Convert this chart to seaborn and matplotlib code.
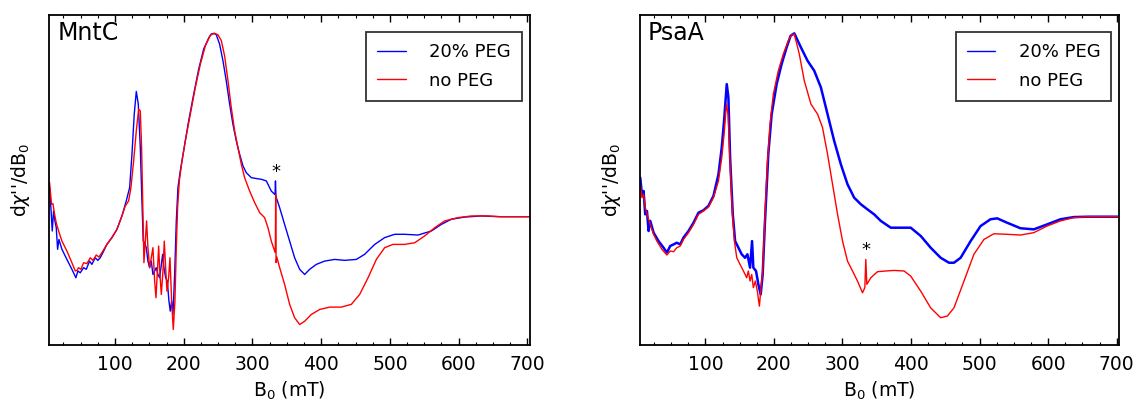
import pandas as pd
import matplotlib
matplotlib.use("Agg")
import matplotlib.pyplot as plt
import seaborn as sns
from matplotlib.ticker import MultipleLocator

# EPR spectra: (B0 in mT, dχ''/dB0 in arbitrary units, peak = 100)
mntc_peg = [(4.8, 15.9), (6.7, 5.0), (8.7, -7.8), (10.6, 3.1), (12.6, -2.3), (14.5, -6.0), (16.5, -17.8),
            (18.4, -12.4), (22.8, -17.8), (30.0, -23.3), (37.3, -28.7), (43.1, -33.3), (46.0, -29.6),
            (49.4, -30.6), (54.3, -27.8), (58.2, -28.7), (63.0, -24.2), (66.4, -26.0), (71.2, -22.4),
            (75.1, -23.8), (78.5, -22.4), (82.4, -19.6), (88.2, -15.1), (95.5, -11.4), (102.8, -6.9),
            (110.1, 0.4), (116.4, 8.6), (121.3, 15.9), (124.7, 34.1), (128.0, 55.9), (131.0, 68.3),
            (133.9, 61.4), (136.8, 37.7), (139.2, 8.6), (141.1, -13.3), (143.1, -14.2), (145.5, -16.9),
            (147.9, -24.2), (150.4, -27.8), (152.8, -24.2), (155.2, -31.5), (157.7, -29.6), (160.0, -27.8),
            (162.5, -31.5), (164.9, -33.3), (166.9, -27.8), (169.3, -20.5), (171.2, -27.8), (173.7, -33.3),
            (176.1, -35.1), (178.5, -46.0), (180.4, -51.5), (182.4, -46.0), (184.3, -53.3), (186.8, -31.5),
            (189.2, -2.3), (191.6, 15.9), (195.0, 25.0), (199.9, 35.9), (207.2, 52.3), (214.5, 66.8),
            (221.8, 80.5), (229.0, 91.4), (236.3, 97.4), (240.1, 99.6), (244.0, 100.0), (247.4, 99.2),
            (252.2, 94.1), (257.1, 85.0), (261.9, 74.1), (266.8, 61.4), (271.6, 50.4), (276.5, 41.3),
            (281.3, 34.1), (286.2, 27.7), (291.0, 24.0), (298.3, 21.3), (305.6, 20.8), (312.9, 20.4),
            (320.2, 19.5), (327.4, 14.0), (332.9, 12.0), (333.5, 19.5), (334.2, 11.0), (339.6, 4.9),
            (346.8, -4.2), (354.1, -13.3), (361.4, -22.4), (368.7, -28.7), (376.0, -31.5), (383.2, -28.7),
            (393.0, -26.0), (405.1, -24.2), (419.6, -23.3), (434.2, -23.8), (451.2, -23.3), (463.3, -20.5),
            (477.9, -15.1), (492.4, -11.4), (507.0, -9.6), (521.5, -9.6), (540.9, -10.0), (560.3, -7.8),
            (574.9, -4.2), (589.4, -1.4), (608.9, -0.2), (633.1, 0.4), (659.8, 0.0), (704.0, 0.0)]

mntc_nopeg = [(4.8, 18.6), (7.7, 6.8), (9.7, 7.1), (12.1, 1.3), (14.5, -3.3), (17.9, -7.8), (22.8, -13.3),
              (30.0, -18.7), (37.3, -25.1), (42.2, -29.6), (44.6, -29.3), (47.0, -27.8), (50.4, -28.7),
              (54.3, -25.1), (59.1, -25.6), (64.0, -22.4), (67.9, -23.8), (72.7, -20.9), (76.6, -22.0),
              (80.9, -19.6), (88.2, -15.1), (95.5, -11.4), (102.8, -6.9), (110.1, 0.4), (115.0, 5.9),
              (119.8, 8.6), (123.2, 15.9), (127.1, 30.4), (131.0, 46.8), (134.4, 58.6), (136.8, 57.7),
              (138.7, 37.7), (140.7, 1.3), (142.1, -25.1), (144.1, -13.3), (146.0, -2.3), (147.9, -16.9),
              (150.4, -27.8), (152.8, -22.4), (155.2, -16.9), (157.7, -35.1), (159.6, -44.2), (162.0, -27.8),
              (163.5, -16.0), (165.4, -31.5), (167.4, -42.4), (169.8, -29.6), (171.7, -13.3), (173.7, -27.8),
              (175.6, -40.6), (178.0, -33.3), (180.0, -22.4), (182.4, -46.0), (184.8, -61.5), (187.2, -46.0),
              (189.2, -16.9), (191.1, 4.9), (193.6, 19.5), (197.5, 30.4), (202.3, 41.3), (209.6, 55.9),
              (216.9, 70.5), (224.2, 83.2), (231.5, 93.2), (238.7, 99.0), (245.0, 100.0), (249.8, 99.2),
              (254.7, 96.0), (259.5, 87.7), (264.4, 74.1), (269.2, 59.5), (274.1, 46.8), (278.9, 37.7),
              (283.8, 28.6), (288.6, 21.3), (295.9, 14.0), (303.2, 7.7), (310.5, 2.2), (317.7, -0.5),
              (322.6, -6.0), (327.4, -13.3), (332.3, -18.7), (333.3, -19.5), (333.8, 12.0), (334.4, -25.0),
              (335.5, -22.0), (339.6, -27.8), (346.8, -36.9), (354.1, -47.8), (361.4, -55.1), (368.7, -58.8),
              (376.0, -57.0), (385.7, -53.3), (397.8, -50.6), (412.4, -49.3), (429.3, -49.3), (443.9, -47.8),
              (456.0, -42.4), (468.2, -33.3), (480.3, -23.3), (492.4, -16.9), (504.5, -15.1), (521.5, -15.1),
              (536.1, -14.2), (550.6, -10.5), (565.2, -6.0), (579.7, -2.3), (599.1, -0.5), (618.6, 0.4),
              (642.8, 0.4), (659.8, 0.0), (704.0, 0.0)]

psaa_peg = [(5.0, 21.3), (7.5, 12.2), (9.9, 14.0), (12.3, 1.3), (14.8, 3.1), (17.2, -7.8), (19.6, -2.3),
            (24.5, -8.7), (31.7, -13.3), (39.0, -16.9), (43.9, -19.6), (48.7, -16.0), (53.6, -15.1),
            (58.4, -14.2), (63.3, -15.1), (68.1, -11.4), (75.4, -7.8), (82.7, -3.3), (90.0, 2.2), (97.2, 3.5),
            (104.5, 5.9), (111.8, 11.3), (119.1, 23.1), (123.9, 37.7), (127.3, 52.3), (131.2, 72.3),
            (133.6, 65.0), (136.1, 32.2), (140.0, 1.3), (143.4, -13.3), (148.2, -16.9), (153.0, -20.5),
            (157.9, -22.4), (161.3, -20.5), (165.2, -27.8), (168.1, -13.3), (170.0, -27.8), (173.9, -29.6),
            (177.3, -36.9), (180.7, -42.4), (183.6, -31.5), (187.0, -2.3), (191.8, 34.1), (196.7, 55.9),
            (204.0, 72.3), (211.2, 83.2), (218.5, 92.3), (224.4, 98.7), (229.7, 100.0), (239.4, 92.3),
            (249.1, 85.0), (258.8, 79.6), (268.5, 70.5), (278.2, 55.9), (287.9, 41.3), (297.6, 28.6),
            (307.3, 17.7), (317.0, 10.4), (326.7, 6.8), (336.4, 4.0), (346.1, 1.3), (355.9, -2.3),
            (370.4, -6.0), (385.0, -6.0), (399.5, -6.0), (414.1, -10.5), (428.6, -16.9), (443.2, -22.4),
            (455.3, -25.1), (462.6, -25.1), (472.3, -22.4), (486.9, -13.3), (501.4, -5.1), (515.9, -1.4),
            (525.7, -0.9), (540.2, -3.3), (559.6, -6.3), (579.1, -6.9), (598.4, -4.2), (617.9, -1.4),
            (637.3, -0.2), (659.1, 0.0), (704.0, 0.0)]

psaa_nopeg = [(5.0, 17.7), (7.5, 10.4), (9.9, 12.2), (12.3, 5.1), (14.8, 1.3), (17.2, -1.4), (19.6, -4.2),
              (24.5, -9.6), (29.3, -13.3), (36.6, -17.8), (43.9, -20.9), (48.7, -18.7), (53.6, -19.1),
              (58.4, -16.9), (63.3, -16.0), (68.1, -12.4), (75.4, -8.7), (82.7, -4.2), (90.0, 1.3), (97.2, 3.1),
              (104.5, 5.3), (111.8, 10.4), (119.1, 19.5), (123.9, 32.2), (127.3, 45.0), (130.7, 61.4),
              (133.1, 55.9), (136.1, 28.6), (139.5, 1.3), (142.4, -13.3), (145.8, -22.4), (150.6, -26.0),
              (155.5, -29.6), (160.3, -33.3), (162.7, -29.6), (165.2, -35.1), (167.6, -31.5), (170.0, -38.7),
              (172.9, -35.1), (175.8, -40.6), (178.8, -48.8), (181.2, -38.7), (183.6, -29.6), (187.0, 1.3),
              (190.4, 28.6), (194.3, 50.4), (199.1, 66.8), (206.4, 79.6), (213.7, 88.7), (221.0, 96.0),
              (225.8, 99.2), (229.7, 99.6), (237.0, 88.7), (244.3, 74.1), (254.0, 61.4), (263.7, 55.9),
              (270.9, 48.6), (278.2, 34.1), (285.5, 17.7), (292.8, 1.3), (300.1, -13.3), (307.3, -24.2),
              (314.6, -29.6), (321.9, -35.1), (329.2, -41.5), (332.6, -38.7), (334.0, -23.3), (335.5, -36.9),
              (341.3, -33.3), (351.0, -30.0), (363.1, -29.6), (375.3, -29.3), (389.8, -29.6), (399.5, -32.4),
              (414.1, -40.6), (428.6, -49.7), (443.2, -55.1), (452.9, -54.2), (462.6, -49.7), (477.2, -35.1),
              (491.7, -20.5), (506.3, -12.4), (520.8, -9.3), (540.2, -9.6), (559.6, -10.0), (579.1, -8.7),
              (598.4, -5.1), (617.9, -2.3), (637.3, -0.5), (659.1, 0.0), (704.0, 0.0)]

# position of the "*" marking the radical signal
mntc_star = (333.7, 19.5)
psaa_star = (334.0, -23.3)

panels = [("MntC", mntc_peg, mntc_nopeg, mntc_star),
          ("PsaA", psaa_peg, psaa_nopeg, psaa_star)]

sns.set_style("white")
plt.rcParams["font.family"] = ["DejaVu Sans"]
plt.rcParams["text.color"] = "black"
plt.rcParams["axes.labelcolor"] = "black"
plt.rcParams["xtick.color"] = "black"

fig = plt.figure(figsize=(11.4, 4.05), dpi=100)
axes = [fig.add_axes([0.043, 0.148, 0.422, 0.815]),
        fig.add_axes([0.561, 0.148, 0.421, 0.815])]

for ax, (name, peg, nopeg, star) in zip(axes, panels):
    d1 = pd.DataFrame(peg, columns=["B", "I"])
    d2 = pd.DataFrame(nopeg, columns=["B", "I"])
    lw_peg = 1.0 if name == "MntC" else 1.8
    sns.lineplot(data=d1, x="B", y="I", color="blue", lw=lw_peg, sort=False,
                 estimator=None, ax=ax, label="20% PEG")
    sns.lineplot(data=d2, x="B", y="I", color="red", lw=1.0, sort=False,
                 estimator=None, ax=ax, label="no PEG")
    ax.text(star[0], star[1], "*", fontsize=13, ha="center", va="bottom", color="black")
    ax.text(0.017, 0.924, name, transform=ax.transAxes, fontsize=17, va="baseline", color="black")

    ax.set_xlim(4, 704)
    ax.set_ylim(-70, 110)
    ax.set_yticks([])
    ax.xaxis.set_major_locator(MultipleLocator(100))
    ax.xaxis.set_minor_locator(MultipleLocator(25))
    ax.tick_params(axis="x", which="both", direction="in", top=True, bottom=True,
                   labelsize=13.5, pad=7, color="black", labelcolor="black")
    ax.tick_params(axis="x", which="major", length=5, width=1)
    ax.tick_params(axis="x", which="minor", length=2.5, width=0.8)
    ax.set_xticks([100, 200, 300, 400, 500, 600, 700])
    for s in ax.spines.values():
        s.set_color("black")
        s.set_linewidth(1.3)
    ax.set_xlabel("B$_0$ (mT)", fontsize=13.5, labelpad=4, color="black")
    ax.set_ylabel("d$\\chi$''/dB$_0$", fontsize=13.5, labelpad=12, color="black")

    leg = ax.legend(loc="upper right", bbox_to_anchor=(0.983, 0.948), borderaxespad=0,
                    fontsize=13, frameon=True, fancybox=False, handlelength=1.6,
                    handletextpad=1.3, labelspacing=0.6, borderpad=0.6)
    leg.get_frame().set_edgecolor("black")
    leg.get_frame().set_linewidth(1.3)
    for t in leg.get_texts():
        t.set_color("black")
    for h in leg.get_lines():
        h.set_linewidth(1.0)

fig.savefig("out.png", dpi=100)
